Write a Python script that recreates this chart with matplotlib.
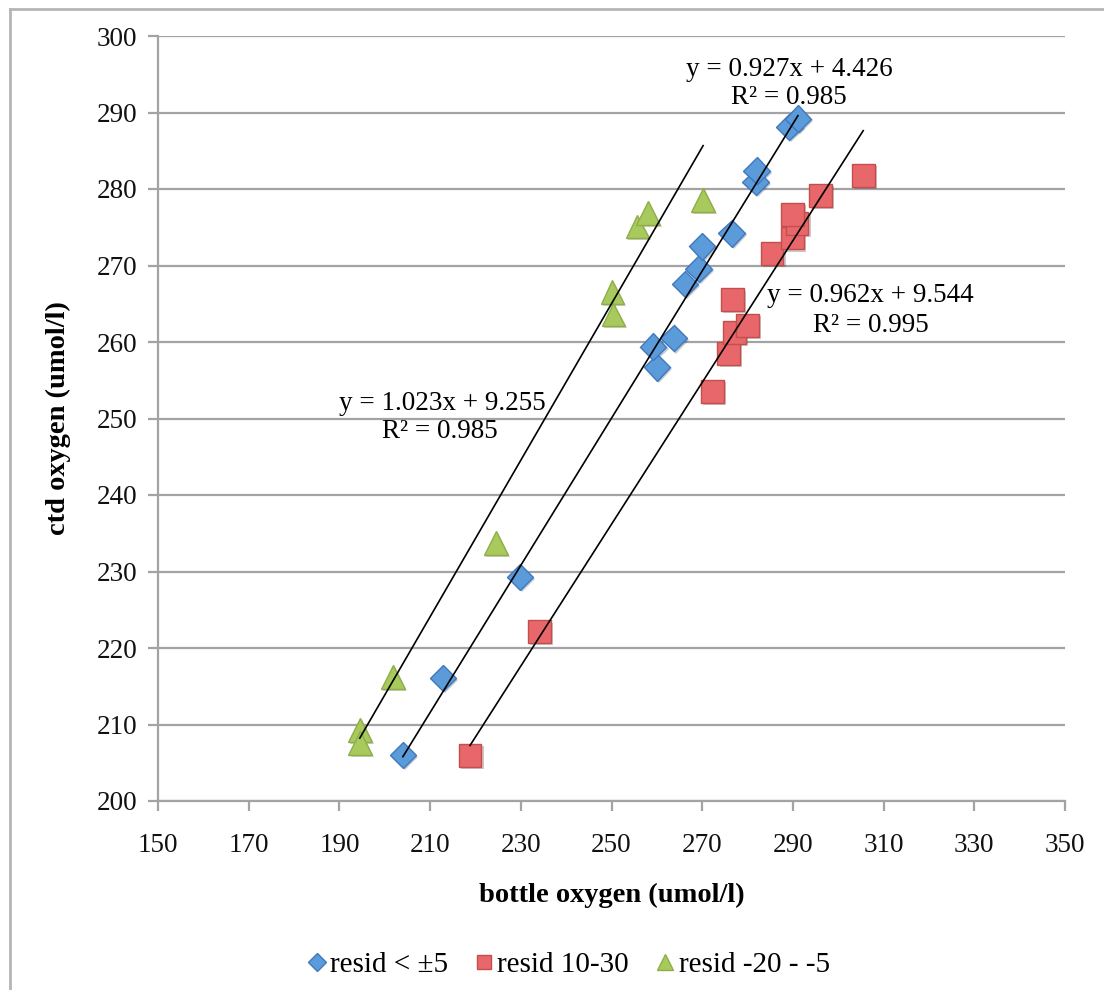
import numpy as np
import matplotlib
matplotlib.use('Agg')
import matplotlib.pyplot as plt
import matplotlib.patheffects as pe
from matplotlib.lines import Line2D

plt.rcParams['font.family'] = ['Liberation Serif', 'DejaVu Serif']

# resid < +-5
x_blue = [204.0, 212.8, 229.8, 260.0, 259.2, 263.7, 266.2, 269.2, 270.0, 276.5,
          281.8, 282.0, 289.2, 291.1]
y_blue = [206.0, 216.1, 229.3, 256.7, 259.4, 260.5, 267.6, 269.6, 272.5, 274.2,
          280.9, 282.4, 288.1, 289.2]
# resid 10-30
x_red = [218.8, 234.2, 272.2, 275.9, 277.2, 279.9, 276.6, 285.4, 290.0, 290.9,
         290.0, 296.0, 305.5]
y_red = [206.0, 222.1, 253.5, 258.5, 261.3, 262.2, 265.5, 271.6, 273.6, 275.5,
         276.7, 279.2, 281.8]
# resid -20 - -5
x_green = [194.5, 194.6, 201.8, 224.5, 250.2, 250.4, 255.7, 258.0, 270.2]
y_green = [209.3, 207.6, 216.2, 233.7, 266.5, 263.6, 275.1, 276.9, 278.6]

# linear trendlines (slope, intercept) per series
fit_blue = (0.962, 9.544)
fit_red = (0.927, 4.426)
fit_green = (1.023, 9.255)

# trendline label text and its centre in pixels (x, y of each line)
eq_labels = [
    ('y = 0.927x + 4.426', 'R² = 0.985', 789, 70, 789, 98),
    ('y = 0.962x + 9.544', 'R² = 0.995', 870, 296, 871, 325),
    ('y = 1.023x + 9.255', 'R² = 0.985', 442, 403, 440, 432),
]

W, H = 1104, 990
fig = plt.figure(figsize=(W / 100, H / 100), dpi=100)
ax = fig.add_axes([158 / W, 1 - 801 / H, (1065 - 158) / W, (801 - 36) / H])

grey = '#a3a3a3'
ax.set_xlim(150, 350)
ax.set_ylim(200, 300)
ax.set_xticks(np.arange(150, 351, 20))
ax.set_yticks(np.arange(200, 301, 10))
ax.yaxis.grid(True, color=grey, lw=1.6)
ax.set_axisbelow(True)
for s in ['top', 'right']:
    ax.spines[s].set_visible(False)
for s in ['left', 'bottom']:
    ax.spines[s].set_color(grey)
    ax.spines[s].set_linewidth(1.6)
ax.tick_params(axis='both', colors=grey, width=1.6, length=7, labelsize=19.5,
               labelcolor='#111111')
ax.tick_params(axis='y', pad=8)
ax.tick_params(axis='x', pad=16)

ax.set_xlabel('bottle oxygen (umol/l)', fontsize=20.5, fontweight='bold', labelpad=18)
ax.set_ylabel('ctd oxygen (umol/l)', fontsize=20.5, fontweight='bold', labelpad=18)

shadow = [pe.SimplePatchShadow(offset=(1.5, -1.5), alpha=0.25), pe.Normal()]

series = [
    (x_blue, y_blue, 'D', 13.5, '#5b9bd9', '#3f78bd', 'resid < ±5'),
    (x_red, y_red, 's', 16.5, '#e8676a', '#c24f4c', 'resid 10-30'),
    (x_green, y_green, '^', 17, '#a8c95c', '#8fae4a', 'resid -20 - -5'),
]
for xs, ys, m, ms, fc, ec, lab in series:
    ax.plot(xs, ys, ls='none', marker=m, ms=ms, mfc=fc, mec=ec, mew=1.0,
            label=lab, zorder=3, path_effects=shadow)

for xs, (a, b) in [(x_green, fit_green), (x_blue, fit_blue), (x_red, fit_red)]:
    xl = np.array([min(xs), max(xs)])
    ax.plot(xl, a * xl + b, color='black', lw=1.2, zorder=4)

for eq, r2, ex, ey, rx, ry in eq_labels:
    fig.text(ex / W, 1 - ey / H, eq, fontsize=19.5, ha='center', va='center')
    fig.text(rx / W, 1 - ry / H, r2, fontsize=19.5, ha='center', va='center')

handles = [Line2D([], [], ls='none', marker=m, ms=ms * 0.65, mfc=fc, mec=ec, mew=1.0)
           for _, _, m, ms, fc, ec, _ in series]
labels = [s[-1] for s in series]
fig.legend(handles, labels, loc='center', bbox_to_anchor=(568 / W, 1 - 965 / H),
           ncol=3, frameon=False, fontsize=21, handlelength=0.7,
           handletextpad=0.1, columnspacing=0.9)

# chart area border
fig.add_artist(Line2D([10 / W, 10 / W], [0, 1 - 9 / H], color='#b5b5b5', lw=2))
fig.add_artist(Line2D([10 / W, 1], [1 - 9 / H, 1 - 9 / H], color='#b5b5b5', lw=2))

fig.savefig('out.png', dpi=100)
